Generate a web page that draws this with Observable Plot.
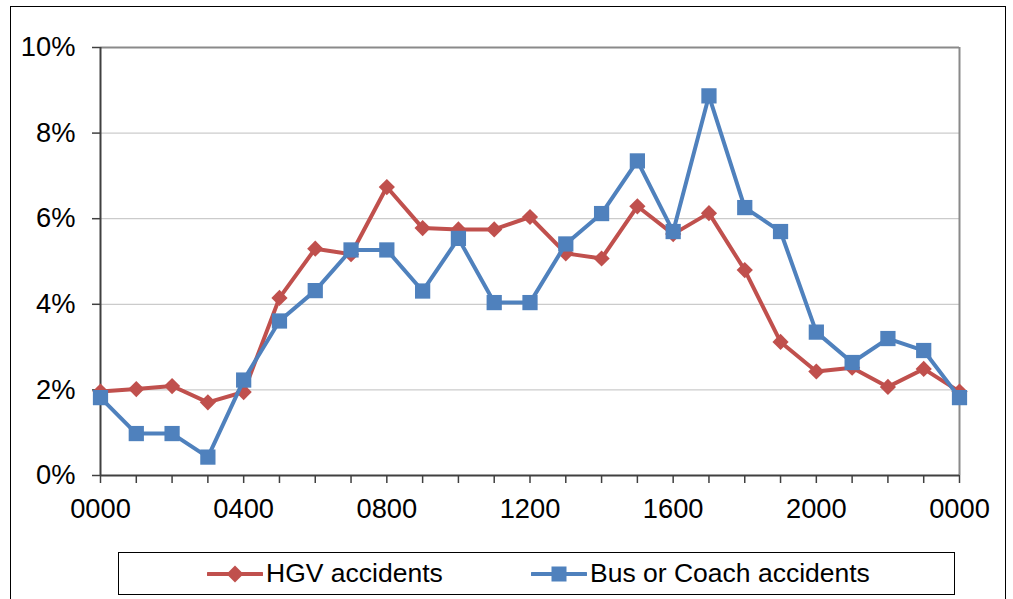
<!DOCTYPE html>
<html>
<head>
<meta charset="utf-8">
<script src="https://cdn.jsdelivr.net/npm/d3@7"></script>
<script src="https://cdn.jsdelivr.net/npm/@observablehq/plot@0.6"></script>
<style>
  html, body { margin: 0; padding: 0; background: #fff; overflow: hidden; }
  body { width: 1013px; height: 599px; position: relative; font-family: "Liberation Sans", Arial, sans-serif; }
  #frame { position: absolute; left: 10px; top: 6px; width: 996px; height: 620px; border: 1px solid #000; box-sizing: border-box; }
  #chart { position: absolute; left: 0; top: 0; }
  #legend { position: absolute; left: 118px; top: 552px; width: 837px; height: 43px; border: 1px solid #000; box-sizing: border-box; background: #fff; }
  .item { position: absolute; top: 0; height: 41px; display: flex; align-items: center; font-size: 26.5px; color: #000; white-space: nowrap; }
  .item svg { margin-right: 3px; }
</style>
</head>
<body>
<div id="frame"></div>
<div id="chart"></div>
<div id="legend"></div>
<script>
// Hour of day (0 = 0000 ... 24 = next 0000)
const hours = [0,1,2,3,4,5,6,7,8,9,10,11,12,13,14,15,16,17,18,19,20,21,22,23,24];
// Share of accidents (%)
const hgv = [1.96,2.02,2.09,1.71,1.95,4.15,5.30,5.17,6.74,5.78,5.75,5.75,6.04,5.19,5.07,6.29,5.64,6.13,4.80,3.12,2.43,2.52,2.07,2.49,1.96];
const bus = [1.82,0.98,0.98,0.43,2.23,3.61,4.32,5.27,5.27,4.31,5.54,4.04,4.04,5.41,6.12,7.35,5.70,8.87,6.26,5.70,3.35,2.64,3.20,2.92,1.82];
const seriesNames = ["HGV accidents", "Bus or Coach accidents"];
const seriesColors = ["#C0504D", "#4F81BD"];
const yTicks = [0,2,4,6,8,10];
const xTickHours = [0,4,8,12,16,20,24];
const xTickLabels = ["0000","0400","0800","1200","1600","2000","0000"];

const hgvRows = hours.map((h, i) => ({hour: h, pct: hgv[i]}));
const busRows = hours.map((h, i) => ({hour: h, pct: bus[i]}));

const chart = Plot.plot({
  width: 1013,
  height: 540,
  marginLeft: 100,
  marginRight: 54,
  marginTop: 47,
  marginBottom: 65,
  style: {fontFamily: "'Liberation Sans', Arial, sans-serif", fontSize: "27.3px", color: "#000", background: "transparent", overflow: "visible"},
  x: {domain: [0, 24]},
  y: {domain: [0, 10]},
  marks: [
    Plot.ruleY([2,4,6,8], {stroke: "#BFBFBF", strokeWidth: 1}),
    Plot.ruleY([10], {stroke: "#8A8A8A", strokeWidth: 2}),
    Plot.ruleX([24], {stroke: "#8A8A8A", strokeWidth: 2}),
    Plot.axisY({ticks: yTicks, tickFormat: d => d + "%", tickSize: 8, tickPadding: 17, stroke: "#404040", strokeWidth: 1.5, fill: "#000", label: null}),
    Plot.axisX({ticks: hours, tickFormat: d => { const i = xTickHours.indexOf(d); return i >= 0 ? xTickLabels[i] : ""; }, tickSize: 8, tickPadding: 15, stroke: "#404040", strokeWidth: 1.5, fill: "#000", label: null}),
    Plot.ruleX([0], {stroke: "#404040", strokeWidth: 2}),
    Plot.ruleY([0], {stroke: "#404040", strokeWidth: 2}),
    Plot.line(hgvRows, {x: "hour", y: "pct", stroke: seriesColors[0], strokeWidth: 4}),
    Plot.dot(hgvRows, {x: "hour", y: "pct", symbol: "diamond2", r: 7.3, fill: seriesColors[0], stroke: "none"}),
    Plot.line(busRows, {x: "hour", y: "pct", stroke: seriesColors[1], strokeWidth: 4}),
    Plot.dot(busRows, {x: "hour", y: "pct", symbol: "square", r: 8.6, fill: seriesColors[1], stroke: "none"})
  ]
});
document.getElementById("chart").appendChild(chart);

// Legend (HTML, below the plot)
const legend = document.getElementById("legend");
const legendLeft = [88, 412];
const symbols = ["diamond", "square"];
seriesNames.forEach((name, i) => {
  const item = document.createElement("div");
  item.className = "item";
  item.style.left = legendLeft[i] + "px";
  const c = seriesColors[i];
  const shape = symbols[i] === "diamond"
    ? `<path d="M28,12.5 L36.5,21 L28,29.5 L19.5,21 Z" fill="${c}"/>`
    : `<rect x="20.5" y="13.5" width="15" height="15" fill="${c}"/>`;
  item.innerHTML = `<svg width="56" height="42" viewBox="0 0 56 42"><line x1="1" y1="21" x2="55" y2="21" stroke="${c}" stroke-width="4" stroke-linecap="round"/>${shape}</svg><span>${name}</span>`;
  legend.appendChild(item);
});
</script>
</body>
</html>
